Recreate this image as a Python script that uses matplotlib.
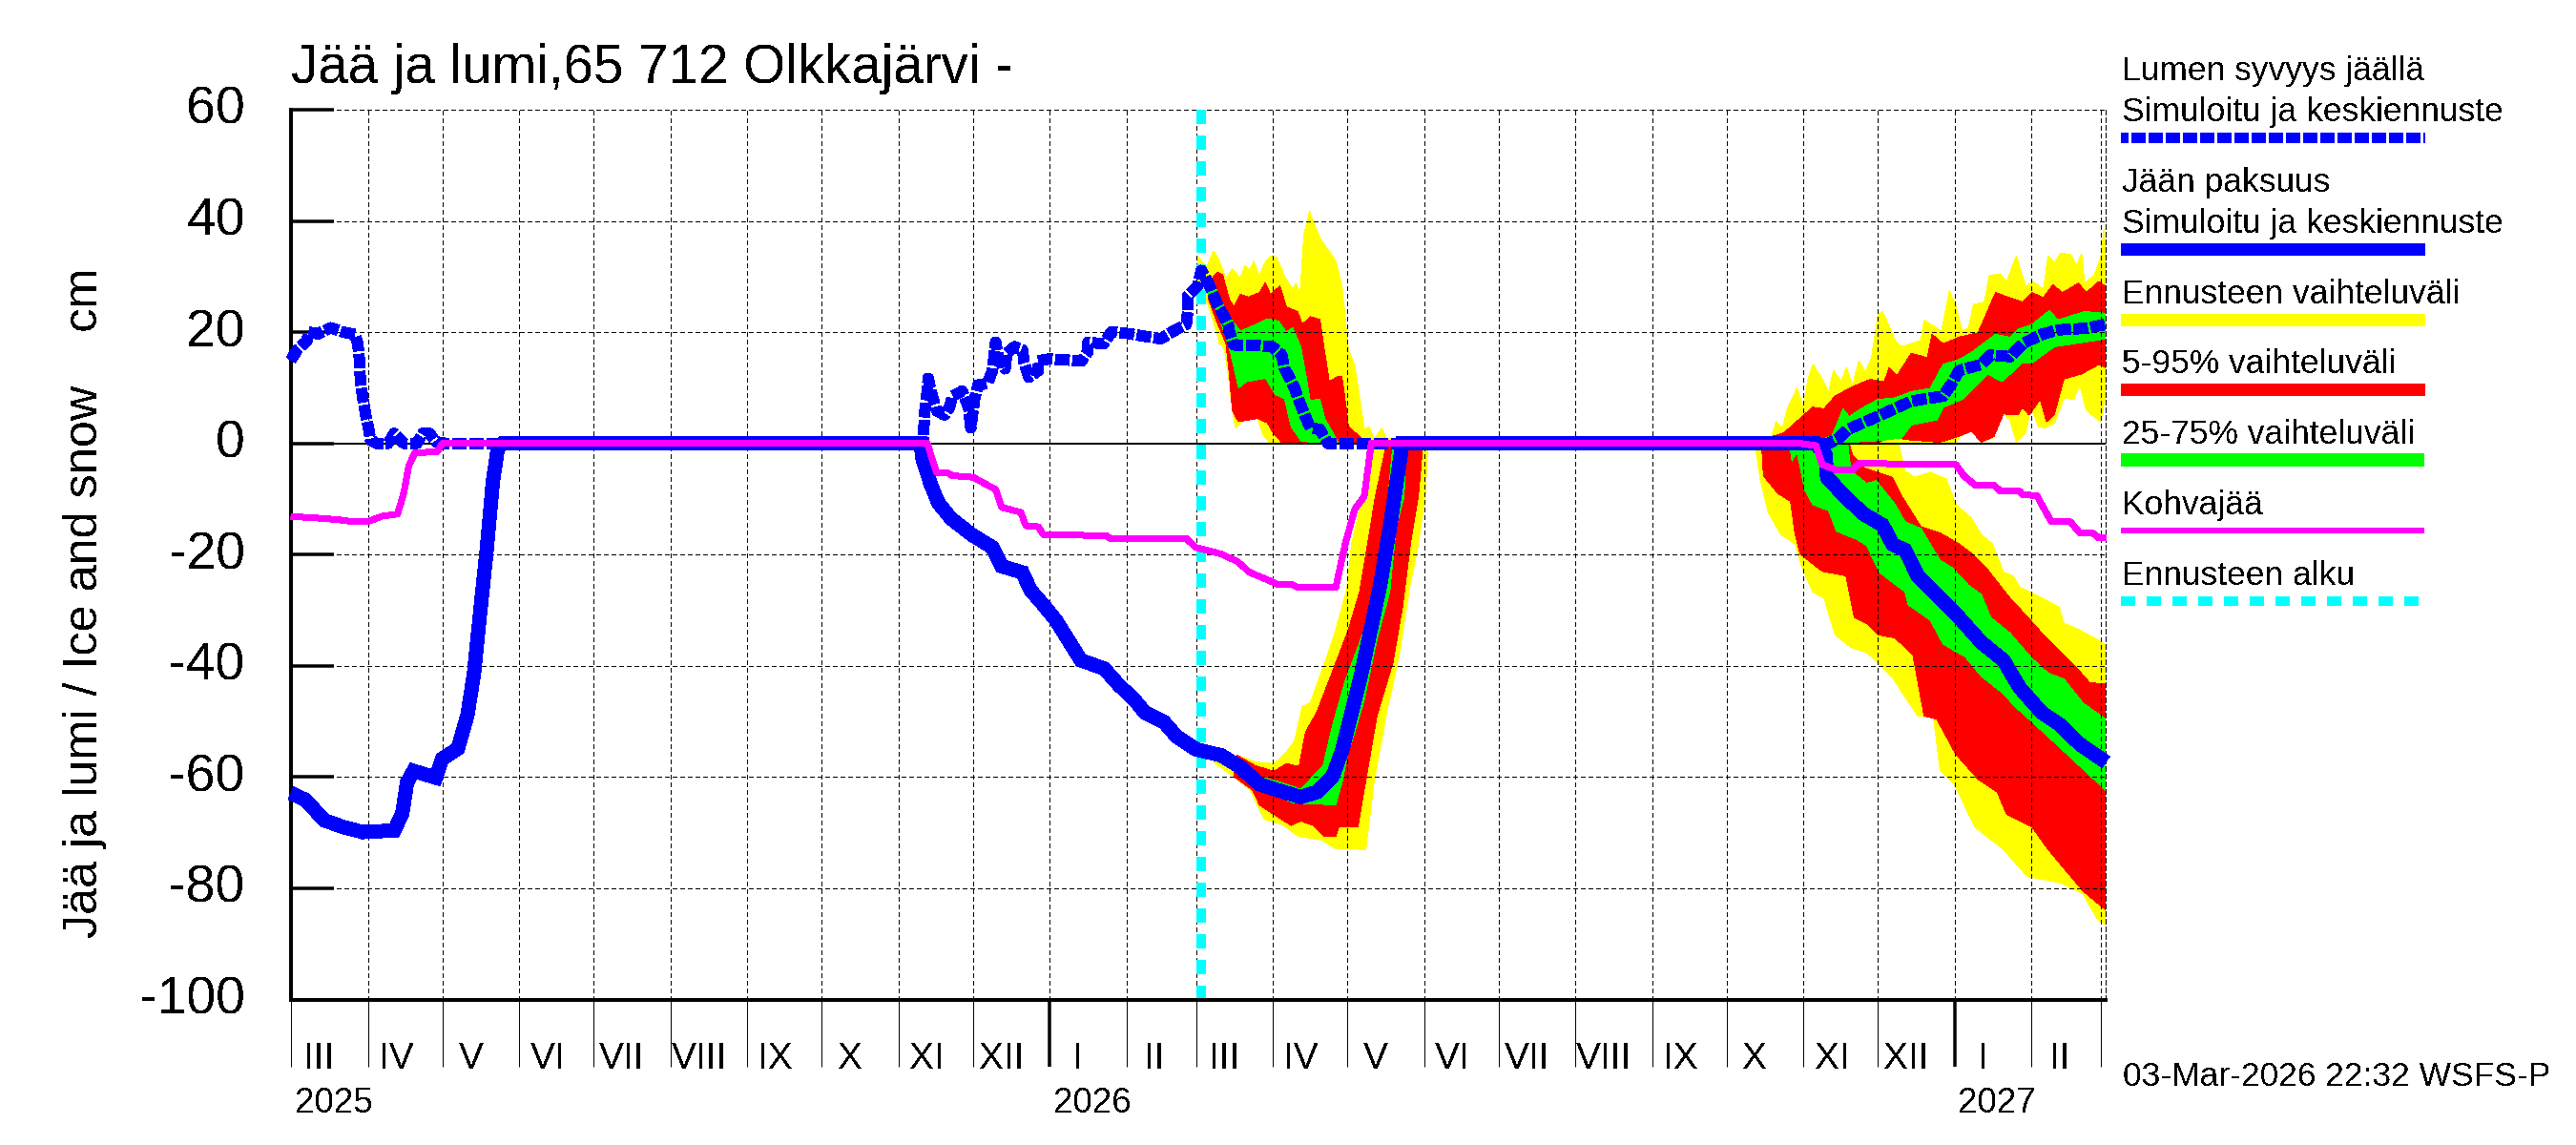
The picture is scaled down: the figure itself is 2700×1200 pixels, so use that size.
import matplotlib
matplotlib.use('Agg')
import matplotlib.pyplot as plt
from matplotlib.lines import Line2D
from matplotlib.transforms import blended_transform_factory, ScaledTranslation
import numpy as np
import pandas as pd

plt.rcParams['font.family'] = ['Liberation Sans', 'DejaVu Sans']
plt.rcParams['text.antialiased'] = False
plt.rcParams['lines.antialiased'] = False
plt.rcParams['patch.antialiased'] = False
plt.rcParams['lines.scale_dashes'] = False

# x values are days since 1 Mar 2025, y values are cm
start_date = '2025-03-01'
end_day = 732
forecast_day = 367
month_names = ['I', 'II', 'III', 'IV', 'V', 'VI', 'VII', 'VIII', 'IX', 'X', 'XI', 'XII']
y_ticks = [60, 40, 20, 0, -20, -40, -60, -80, -100]

title = 'Jää ja lumi,65 712 Olkkajärvi -'
y_title = 'Jää ja lumi / Ice and snow    cm'
stamp = '03-Mar-2026 22:32 WSFS-P'

snow_depth = [(0,15),(2.6,16.9),(6.4,18.4),(7.1,20),(10.9,19.7),(16,20.8),(21.2,20),(25.7,19.6),(26.9,18.1),
    (27.5,15.6),(28,11.3),(28.9,8.3),(30.1,5.2),(31.4,2.4),(32.1,.6),(34.6,0),(39.1,0),(41.7,1.8),(43,1.2),
    (45.5,0),(50.7,0),(53.2,1.8),(55.8,1.8),(58.4,.3),(62.2,0),(255.3,0),(255.3,3.1),(255.7,5.9),(256.6,9.4),
    (257,11.7),(258.5,8.8),(260.4,5.9),(263.6,5.1),(265.6,6.5),(266.8,8.5),(270.7,9.4),(273.3,6.5),(274.2,2.8),
    (275.8,8.2),(277.1,10.5),(281,10.8),(282.9,13.1),(284.2,18.2),(285.4,15.1),(288,13.4),(288.7,16.2),
    (291.9,17.4),(295.1,16.8),(295.7,14.5),(297.6,11.9),(301.5,13.1),(301,14.8),(306,15.2),(318.8,14.8),
    (321.4,16.5),(321.4,18.2),(327.8,17.9),(331,20.1),(336.8,19.8),(350.8,18.8),(355.9,20.2),(361.1,21.4),
    (361.7,23.7),(361.7,26.5),(365.6,28.3),(367.2,31.1),(370,28.8),(373.9,24.8),(378,21.4),(378.4,20.3),
    (380.3,17.7),(386.7,17.7),(395.7,17.4),(399.6,15.9),(400.8,13.4),(402.8,11.7),(404.7,10),(406.6,7.7),
    (409.2,4.8),(411.1,2.8),(415,2.5),(418.2,0),(620.2,0),(624,.8),(627.9,2.5),(640.7,5),(653.5,7.6),(666.4,8.5),
    (670.2,11),(672.8,13.1),(681.8,14.2),(685.6,15.9),(693.3,15.6),(698.4,17.9),(706.1,19.6),(712.6,20.4),
    (724.1,20.7),(732,21.4)]

ice_depth = [(0,-62.9),(5.8,-64.1),(13.5,-67.8),(21.2,-69),(28.9,-69.9),(41.7,-69.6),(44.9,-66.5),(46.8,-61),
    (49.4,-58.9),(58.4,-60.1),(61,-56.7),(67.3,-54.9),(71.2,-48.8),(73.8,-41.4),(76.3,-30.4),(78.9,-19.3),
    (81.4,-7),(83.4,-.9),(85.3,0),(254,0),(254.7,-2.7),(257.9,-7.2),(261.1,-10.7),(266.2,-13.5),(274.5,-16.4),
    (282.9,-18.7),(286.7,-22.1),(295,-23.2),(298.3,-26.4),(303.4,-29),(308.5,-31.8),(313,-35),(318.6,-39),
    (328,-40.5),(334,-43.5),(340,-46),(344.4,-48.4),(352.1,-50.1),(357.2,-52.7),(364.9,-55),(375.2,-56.1),
    (382.9,-58.2),(390.6,-61.3),(398.3,-62.4),(407.3,-63.6),(413.7,-62.7),(420.1,-59.9),(423.9,-55.3),
    (427.8,-48.4),(431.6,-41.6),(435.5,-33.5),(439.3,-25.5),(443.2,-15.2),(445.1,-9.5),(448.3,0),(615,0),
    (618.9,-2.1),(619.6,-6.1),(626.6,-9.5),(634.3,-12.7),(642,-14.7),(645.9,-18.1),(651,-19.2),(656.1,-23.8),
    (665.1,-27.8),(672.8,-31.3),(681.8,-35.8),(690.7,-39),(697.2,-43.9),(706.1,-48.4),(713.8,-50.7),
    (721.5,-54.1),(732,-57.3)]

slush_ice = [(0,-13.2),(7.1,-13.3),(18.6,-13.7),(23.7,-14),(31.4,-14),(36.6,-13.1),(43,-12.7),(45.5,-8.9),
    (47.5,-4),(50,-1.7),(59,-1.5),(61,0),(256.6,0),(260.4,-5.2),(264.9,-5.3),(266.8,-5.8),(275.2,-6.1),
    (284.2,-8.3),(286.7,-11.5),(294.4,-12.4),(296.4,-14.8),(301.5,-15),(303.4,-16.4),(329,-16.6),(330.3,-17.1),
    (361.1,-17.1),(364.9,-18.7),(375.2,-19.9),(381.6,-21.2),(386.7,-23.2),(393.1,-24.4),(398.3,-25.4),
    (404,-25.4),(406,-25.9),(421.4,-25.9),(425.2,-18.1),(429.1,-11.8),(432.9,-9.5),(435.7,0),(608.7,0),
    (615.1,-.4),(617.6,-3.8),(623.4,-4.8),(629.8,-4.8),(632.4,-3.6),(671.5,-3.8),(674.7,-5.8),(679.2,-7.5),
    (686.9,-7.5),(689.5,-8.6),(697.2,-8.6),(698.4,-9.2),(704.2,-9.4),(710,-14.1),(717.7,-14.1),(721.5,-16.1),
    (726.7,-16.1),(729.2,-17),(732,-17)]

# first season, snow on ice
snow1_full_hi = [(365.6,33.7),(369.4,31.7),(372,34.6),(373.9,33.4),(377.1,29.7),(379.7,31.4),(382.9,29.7),
    (384.8,32),(386.7,31.1),(388.3,32.8),(390.6,30),(392.5,32.3),(395.1,33.7),(397.6,33.4),(400.8,30),(404,27.7),
    (405.3,28.8),(407,26.8),(408.5,37.4),(410.8,41.7),(415,36.9),(421.4,32.8),(423.9,28.3),(426.5,16.8),
    (429.1,14),(431.6,6.5),(432.9,2.5),(434.8,3),(436.8,.8),(440,2.7),(441.9,.8),(447,1),(448.3,0)]
snow1_full_lo = [(365.6,28.8),(369.4,25.4),(372,22),(374.5,18),(376.5,17.1),(378.4,11.1),(379.7,5.9),(381,2.8),
    (384.2,4.3),(389.9,4.5),(391.9,1.7),(394.4,.2),(395,0)]
snow1_p5_hi = [(370,28.8),(373.6,30.8),(375.8,30.3),(378.4,26),(380.3,24.5),(382.9,26.8),(386.1,26.3),(390.6,27.1),
    (392.9,28.8),(395.1,26.8),(398.9,28.3),(401.5,24.5),(406,23.7),(407.9,21.4),(411.1,22.8),(415,22.3),
    (416.2,18.5),(418.8,11.1),(422,12),(423.9,12),(425.9,5.4),(426.5,3),(431.6,1),(432.3,0)]
snow1_p5_lo = [(370,26),(373.3,22),(377.1,18),(378.4,12.8),(379.7,5.9),(382.2,3.9),(389.9,4.5),(393.8,3.7),
    (396.4,1.7),(399.6,.2),(399.8,0)]
snow1_p25_hi = [(368.8,28.3),(373.3,27.7),(377.7,23.1),(382.9,20.2),(389.3,21.4),(393.8,22.4),(398.3,22),
    (401.5,20),(404,20.8),(407.3,17.4),(409.8,11.1),(411.1,7.7),(415,8),(416.9,4.5),(421.4,1),(422.6,0)]
snow1_p25_lo = [(368.8,27.7),(372.6,24.8),(377.1,19.1),(379,16.2),(382.2,10),(385.4,11.1),(393.1,11.7),(397,8.8),
    (400.8,8),(403.4,3),(407.3,.5),(409.8,.3),(415.6,0)]

# first season, ice
ice1_full_hi = [(372,-57.3),(381.6,-56.1),(389.3,-57.3),(396.4,-57.6),(400.8,-55.9),(404.7,-53.6),(407.9,-47.3),
    (411.1,-46.7),(416.9,-39.5),(421.4,-33.5),(425.9,-26.1),(427.8,-18.1),(431.6,-10.6),(433.5,-9.5),(436.1,0)]
ice1_full_lo = [(372,-57.3),(380.3,-59.9),(386.7,-62.2),(392.5,-67.6),(399.6,-68.5),(406.6,-70.7),(415.6,-71.3),
    (421.4,-72.9),(433.5,-73),(436.8,-61),(441.9,-48.4),(447,-38.1),(450.9,-26.7),(454.7,-18.1),(457.5,-9.5),
    (458.6,0)]
ice1_p5_hi = [(381.6,-56.1),(388.7,-57.9),(396.4,-59),(401.5,-57.6),(406.6,-58.1),(409.2,-51.9),(413.7,-48.4),
    (420.1,-41),(426.5,-33.5),(431,-26.7),(434.2,-18.1),(437.4,-9.5),(441.9,0)]
ice1_p5_lo = [(380.3,-59.9),(388,-62.4),(390.6,-65),(396.4,-66.7),(403.4,-68.7),(407.3,-67.9),(412.4,-68.7),
    (416.9,-70.7),(421.4,-70.7),(422.6,-69),(430.3,-69),(432.9,-62.2),(438,-49),(444.5,-39.3),(448.3,-29.5),
    (451.5,-18.1),(454.7,-9.5),(456.6,0)]
ice1_p25_hi = [(390.6,-59.9),(399.6,-61),(407.3,-62.2),(411.1,-60.4),(416.2,-58.1),(420.1,-50.7),(425.2,-42.7),
    (429.1,-38.1),(432.9,-33.5),(436.8,-26.7),(440,-18.1),(442.5,-9.5),(444.5,0)]
ice1_p25_lo = [(391.9,-62.4),(404.7,-64.7),(421.4,-65),(423.9,-61),(426.5,-55.3),(429.1,-51.9),(432.9,-46.1),
    (438,-35.3),(443.2,-26.7),(445.7,-15.2),(449,-9.5),(449.6,0)]

# second season, snow on ice
snow2_full_hi = [(596.5,.2),(599,3.9),(601.6,2.8),(603.5,6.2),(607.4,9.9),(609.9,6.5),(611.9,11.6),(613.8,14.2),
    (617.6,11.6),(620.2,9.3),(622.1,13.1),(625.3,11.1),(627.3,13.6),(629.8,10.5),(632.4,14.8),(635,12.8),
    (637.5,15.4),(640.1,23.1),(642,23.7),(647.1,18.5),(649.7,17.4),(657.4,18.5),(658.7,22.2),(662.5,21.1),
    (665.7,20.2),(668.9,27.4),(671.5,24.8),(674.1,20.2),(676.6,20.8),(678.6,25),(683,25.4),(685,30.2),
    (689.5,30.5),(692,29.1),(695.9,33.7),(699.7,28.2),(702.9,29.1),(706.8,27.7),(708.7,33.7),(711.3,32.5),
    (713.8,34.2),(717.7,34),(720.3,32),(722.2,34.2),(723.5,28.8),(727.3,30.2),(729.9,33.4),(731.2,38.5),(732,34)]
snow2_full_lo = [(596.5,0),(665.1,0),(671.5,.2),(674.7,2.2),(679.2,2.2),(681.8,.2),(686.3,1),(690.7,5.3),(693.3,4.2),
    (695.9,.2),(699.7,1.9),(701.7,6.5),(704.9,3),(707.4,2.8),(711.3,3.6),(715.1,8.2),(719,7.9),(721.5,10.5),
    (724.1,6),(729.9,3.9),(732,8.8)]
snow2_p5_hi = [(597.8,1.3),(602.2,1.9),(608.7,4.5),(613.8,6.5),(618.3,6.2),(622.8,8.5),(629.8,10.2),(636.9,11.5),
    (642.6,11.1),(644.6,13.6),(647.8,12.2),(653.5,16.2),(660,15.4),(661.9,19.6),(666.4,17.9),(672.8,19.1),
    (680.5,19.9),(687.5,27.1),(693.3,26.2),(698.4,25.4),(702.3,27.1),(706.8,26.2),(710.6,28.5),(714.5,27.1),
    (720.9,28.8),(724.1,27.1),(729.2,29.1),(732,28.2)]
snow2_p5_lo = [(597.8,0),(639.4,0),(645.9,1.3),(651,.7),(665.1,.2),(672.8,1.3),(677.9,2.2),(681.8,.2),(686.9,1.3),
    (690.7,5.3),(696.5,5.1),(698.4,6.5),(701,5.1),(705.5,7.9),(708.1,3.9),(711.3,5.3),(715.1,11.6),(722.2,12.5),
    (729.2,14.2),(732,13.6)]
snow2_p25_hi = [(615.1,.5),(621.5,1.3),(626,6.2),(628.5,4.8),(634.3,6.5),(640.1,7.9),(647.1,8.2),(653.5,9.3),
    (661.2,9.9),(666.4,14.2),(672.8,15.1),(677.3,16.2),(687.5,19.6),(693.3,19.1),(696.5,20.5),(702.3,21.4),
    (709.3,23.9),(712.6,22.2),(723.5,23.7),(732,23.4)]
snow2_p25_lo = [(615.1,0),(621.5,0),(640.7,.5),(649.7,1),(653.5,3.3),(663.8,4.2),(666.4,6.5),(674.1,7.9),(684.3,12.5),
    (690.1,11.1),(698.4,14.5),(702.3,14.5),(711.3,17.4),(719,17.9),(732,18.8)]

# second season, ice
ice2_full_hi = [(640.7,0),(648.4,-.1),(651,-5),(654.8,-6.1),(661.2,-5.2),(667.7,-6.4),(671.5,-11),(677.9,-13.5),
    (681.8,-16.4),(686.3,-18.1),(690.7,-23.2),(694.6,-23.8),(697.2,-25.8),(706.1,-27.8),(713.2,-29.5),
    (715.1,-32.4),(720.3,-33.3),(730.5,-35.8),(732,-36.4)]
ice2_full_lo = [(590,0),(590.7,-.9),(592.6,-6.4),(595.8,-12.4),(601,-16.4),(606.7,-18.1),(609.3,-22.1),(613.8,-26.7),
    (618.3,-27.8),(622.8,-34.4),(629.2,-36.7),(635.6,-37.6),(640.7,-39.8),(645.9,-42.1),(656.1,-49),(662.5,-49.3),
    (665.1,-58.7),(670.9,-61.3),(679.2,-69),(690.7,-73),(700.4,-77.9),(713.8,-79),(722.8,-81),(728.6,-85.6),
    (732,-86.5)]
ice2_p5_hi = [(628.5,0),(629.8,-2.1),(634.3,-4.4),(645.9,-6.1),(649.7,-9.5),(657.4,-15),(665.1,-16.1),(672.8,-18.1),
    (677.9,-19.8),(684.3,-22.7),(693.3,-27.8),(701,-31.5),(707.4,-34.7),(720.3,-40.4),(725.4,-43),(732,-43.3)]
ice2_p5_lo = [(593,0),(593.3,-1.2),(593.9,-5.8),(599.7,-9),(604.8,-10.4),(606.7,-16.4),(608.6,-19.8),(617.6,-23),
    (627.2,-23.8),(630.5,-31.3),(635.6,-32.4),(640.1,-34.4),(647.1,-35),(654.2,-38.1),(658.7,-49),(663.8,-49.6),
    (671.5,-55.9),(680.5,-60.4),(688.2,-62.7),(692,-66.7),(702.3,-69),(708.7,-73),(722.8,-80.5),(732,-83.9)]
ice2_p25_hi = [(627.9,0),(629.2,-5),(635.6,-7.2),(639.4,-6.7),(647.1,-11),(651,-14.1),(657.4,-15.3),(665.1,-21),
    (670.2,-22.4),(676.6,-25.5),(681.8,-27.2),(685.6,-31.3),(693.3,-34.1),(702.3,-38.7),(708.7,-41.3),
    (715.1,-42.4),(722.8,-46.7),(732,-49.6)]
ice2_p25_lo = [(604.5,0),(604.8,-1.2),(605.4,-3.2),(607.4,-1.5),(610.6,-8.4),(613.8,-11),(620.2,-12.1),(623.4,-15.8),
    (631.7,-17.3),(635.6,-18.4),(640.7,-23.2),(651,-26.7),(652.3,-29),(661.2,-31.8),(666.4,-36.1),(675.3,-38.4),
    (681.8,-41.9),(690.7,-45),(694.6,-47),(702.3,-50.1),(716.4,-55.9),(732,-62.4)]

legend_texts = ['Lumen syvyys jäällä', 'Simuloitu ja keskiennuste', 'Jään paksuus', 'Simuloitu ja keskiennuste',
    'Ennusteen vaihteluväli', '5-95% vaihteluväli', '25-75% vaihteluväli', 'Kohvajää', 'Ennusteen alku']

W, H = 2700, 1200
PX = 0.72  # points per pixel at dpi 100


def xy(pairs):
    return np.array(pairs, dtype=float).T


def band(ax, hi, lo, color):
    xh, yh = xy(hi)
    xl, yl = xy(lo)
    ax.fill(np.r_[xh, xl[::-1]], np.r_[yh, yl[::-1]], color=color, lw=0, zorder=1)


fig = plt.figure(figsize=(27, 12), dpi=100, facecolor='white')
ax = fig.add_axes([305 / W, 1 - 1047.5 / H, (2207.2 - 305) / W, (1047.5 - 115) / H])
ax.set_xlim(0, end_day)
ax.set_ylim(-100, 60)

for hi, lo in [(snow1_full_hi, snow1_full_lo), (ice1_full_hi, ice1_full_lo),
               (snow2_full_hi, snow2_full_lo), (ice2_full_hi, ice2_full_lo)]:
    band(ax, hi, lo, '#ffff00')
for hi, lo in [(snow1_p5_hi, snow1_p5_lo), (ice1_p5_hi, ice1_p5_lo),
               (snow2_p5_hi, snow2_p5_lo), (ice2_p5_hi, ice2_p5_lo)]:
    band(ax, hi, lo, '#ff0000')
for hi, lo in [(snow1_p25_hi, snow1_p25_lo), (ice1_p25_hi, ice1_p25_lo),
               (snow2_p25_hi, snow2_p25_lo), (ice2_p25_hi, ice2_p25_lo)]:
    band(ax, hi, lo, '#00ff00')

ax.axhline(0, color='black', lw=1.5 * PX, zorder=1.6)
ax.axvline(forecast_day, color='#00ffff', lw=10 * PX, ls=(0, (15 * PX, 13 * PX)), dash_capstyle='butt', zorder=2)

x, y = xy(ice_depth)
ax.plot(x, y, color='#0000ff', lw=14 * PX, solid_capstyle='butt', solid_joinstyle='miter', zorder=3, clip_on=False)
x, y = xy(snow_depth)
ax.plot(x, y, color='#0000ff', lw=11 * PX, ls=(0, (15 * PX, 3 * PX)), dash_capstyle='butt', zorder=3.1, clip_on=False)
x, y = xy(slush_ice)
ax.plot(x, y, color='#ff00ff', lw=6 * PX, solid_capstyle='butt', zorder=3.2, clip_on=False)

# axes, ticks and grid
months = pd.date_range(start_date, periods=25, freq='MS')
month_days = (months - pd.Timestamp(start_date)).days.to_numpy()
ax.set_axisbelow('line')
ax.set_xticks(month_days)
ax.set_xticklabels([])
ax.set_xticks(month_days[:-1] + 11.5, minor=True)
ax.set_xticklabels([month_names[m.month - 1] for m in months[:-1]], minor=True, fontsize=28)
ax.tick_params(axis='x', which='major', direction='out', length=70 * PX, width=1 * PX)
ax.tick_params(axis='x', which='minor', length=0, pad=45 * PX)
ax.set_yticks(y_ticks)
ax.set_yticklabels([str(v) for v in y_ticks], fontsize=40)
ax.tick_params(axis='y', direction='in', length=45 * PX, width=3.5 * PX, pad=48 * PX)
ax.grid(True, which='major', color='black', lw=1 * PX, ls=(0, (4.5 * PX, 3.5 * PX)))

# y labels sit a little above their ticks in the original
lift = ScaledTranslation(0, 5 / 100, fig.dpi_scale_trans)
for lab in ax.get_yticklabels():
    lab.set_transform(lab.get_transform() + lift)

year_tf = blended_transform_factory(ax.transData, fig.transFigure)
for tick, m in zip(ax.xaxis.get_major_ticks(), months):
    if m.month == 1:
        tick.tick1line.set_markeredgewidth(3.5 * PX)
for m, d in zip(months, month_days):
    if m.month == 1 or d == 0:
        ax.text(d + 1.5, 1 - 1166 / H, str(m.year), transform=year_tf, fontsize=26.5, ha='left', va='baseline')

ax.spines['top'].set_visible(False)
ax.spines['right'].set_linestyle((0, (4.5 * PX, 3.5 * PX)))
ax.spines['right'].set_linewidth(1 * PX)
ax.spines['left'].set_linewidth(3.5 * PX)
ax.spines['bottom'].set_linewidth(3.5 * PX)

fig.text(305 / W, 1 - 87 / H, title, fontsize=40.7, ha='left', va='baseline')
fig.text(89 / W, 1 - 632 / H, y_title, fontsize=36.3, rotation=90, ha='center', va='center')
fig.text(2225 / W, 1 - 1138 / H, stamp, fontsize=25.5, ha='left', va='baseline')

# legend
legend_base = [84, 127, 201, 244, 318, 391, 465, 539, 613]
for txt, yb in zip(legend_texts, legend_base):
    fig.text(2224 / W, 1 - yb / H, txt, fontsize=25.5, ha='left', va='baseline')

legend_bars = [(144, 10.5, '#0000ff', (7 * PX, (15 * PX, 3 * PX))), (260.5, 13, '#0000ff', 'solid'),
    (334.5, 13, '#ffff00', 'solid'), (408, 13, '#ff0000', 'solid'), (482, 14, '#00ff00', 'solid'),
    (555.5, 6, '#ff00ff', 'solid'), (629.5, 10, '#00ffff', (0, (15 * PX, 13 * PX)))]
for yb, lw, col, ls in legend_bars:
    fig.add_artist(Line2D([2223 / W, 2541 / W], [1 - yb / H, 1 - yb / H], transform=fig.transFigure,
                          color=col, lw=lw * PX, ls=ls, solid_capstyle='butt', dash_capstyle='butt'))

fig.savefig('out.png', dpi=100)
